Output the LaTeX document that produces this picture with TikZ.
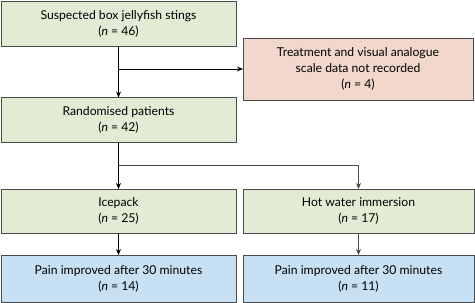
\documentclass[tikz,border=0pt]{standalone}
\usepackage{fontspec}
\setmainfont{Lato}
\usepackage{xcolor}
\definecolor{flowgreen}{HTML}{E2ECD5}
\definecolor{flowpink}{HTML}{F2D8CC}
\definecolor{flowblue}{HTML}{C7E0F3}
\definecolor{flowedge}{HTML}{4A4A4A}
\usepackage{tikz}
\usetikzlibrary{arrows.meta,positioning}

\begin{document}
\begin{tikzpicture}[x=1pt, y=-1pt,
      stage/.style={draw=flowedge, line width=0.8pt, align=center, inner sep=0pt, outer sep=0pt,
        font=\fontsize{12.2}{16}\selectfont, minimum width=235pt, minimum height=45pt},
      arr/.style={-{Stealth[length=6pt,width=5pt]}, line width=0.8pt}
    ]
    \useasboundingbox (0,0) rectangle (475,303);
    \node[stage, fill=flowgreen] (stings) at (118.5,23.5) {Suspected box jellyfish stings\\(\textit{n} = 46)};
    \node[stage, fill=flowpink, minimum width=230pt, minimum height=62pt] (missing) at (358,69) {Treatment and visual analogue\\scale data not recorded\\(\textit{n} = 4)};
    \node[stage, fill=flowgreen] (random) at (118.5,120) {Randomised patients\\(\textit{n} = 42)};
    \node[stage, fill=flowgreen, minimum height=44pt] (ice) at (118.5,211) {Icepack\\(\textit{n} = 25)};
    \node[stage, fill=flowgreen, minimum width=231pt, minimum height=44pt] (hot) at (358.5,211) {Hot water immersion\\(\textit{n} = 17)};
    \node[stage, fill=flowblue, minimum height=47pt] (iceout) at (118.5,278.5) {Pain improved after 30 minutes\\(\textit{n} = 14)};
    \node[stage, fill=flowblue, minimum width=231pt, minimum height=47pt] (hotout) at (358.5,278.5) {Pain improved after 30 minutes\\(\textit{n} = 11)};
    \coordinate (split) at (118.5,165);
    \draw[arr] (stings) -- (random);
    \draw[arr] (stings.south |- missing.west) -- (missing.west);
    \draw[arr] (ice) -- (iceout);
    \draw[line width=0.8pt] (random.south) -- (split);
    \draw[arr, flowedge] (split) -| (hot.north);
    \draw[arr] (split) -- (ice);
    \draw[arr, flowedge] (hot) -- (hotout);
  \end{tikzpicture}
\end{document}
